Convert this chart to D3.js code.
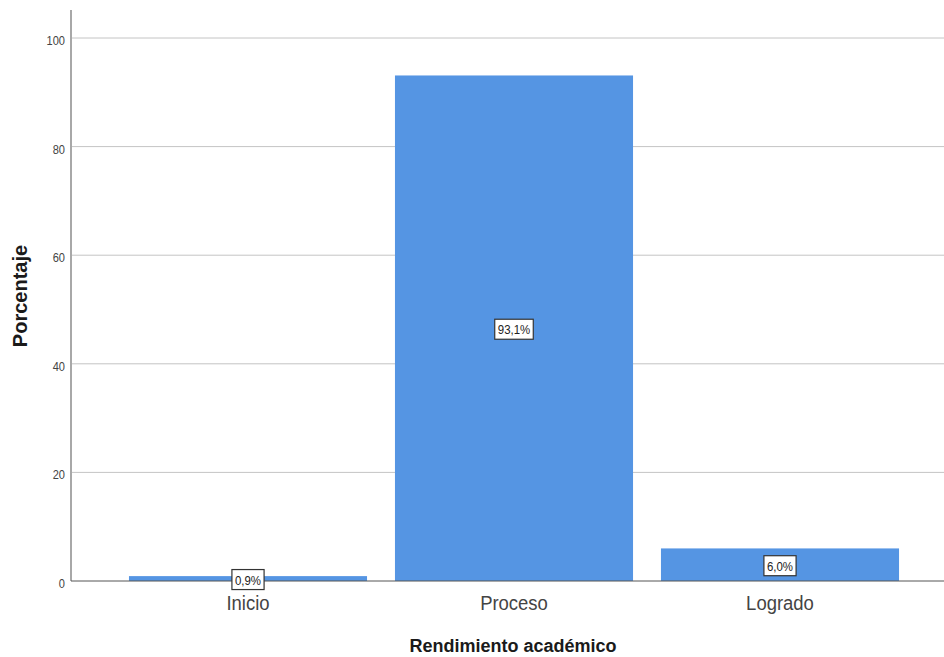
<!DOCTYPE html>
<html><head><meta charset="utf-8">
<script src="https://cdn.jsdelivr.net/npm/d3@7"></script>
<style>body{margin:0;background:#fff}svg{display:block}</style>
</head><body>
<svg id="c" width="944" height="657"></svg>
<script>
const categories = ["Inicio", "Proceso", "Logrado"];
const values = [0.9, 93.1, 6.0];
const labels = ["0,9%", "93,1%", "6,0%"];
const yTicks = [0, 20, 40, 60, 80, 100];

const svg = d3.select("#c");
const pLeft = 71, pRight = 944, pTop = 10, pBottom = 581;
const FONT = "'Liberation Sans', Arial, sans-serif";
const y = d3.scaleLinear().domain([0, 100]).range([pBottom, 38]);
const x = d3.scaleBand().domain(categories).range([115, 913]).paddingInner(0.105).paddingOuter(0.0525);

// gridlines
svg.append("g").selectAll("line").data(yTicks.filter(d => d > 0)).join("line")
  .attr("x1", pLeft).attr("x2", pRight).attr("y1", d => y(d)).attr("y2", d => y(d))
  .attr("stroke", "#c4c4c4").attr("stroke-width", 1);

// tick labels
svg.append("g").selectAll("text").data(yTicks).join("text")
  .attr("transform", d => `translate(65,${y(d) + 7}) scale(0.85,1)`)
  .attr("text-anchor", "end")
  .attr("font-family", FONT)
  .attr("font-size", 13).attr("fill", "#444").text(d => d);

// bars
svg.append("g").selectAll("rect").data(values).join("rect")
  .attr("x", (d, i) => x(categories[i])).attr("width", x.bandwidth())
  .attr("y", d => y(d)).attr("height", d => pBottom - y(d))
  .attr("fill", "#5595e3");

// y axis line
svg.append("line").attr("x1", pLeft).attr("x2", pLeft).attr("y1", pTop).attr("y2", pBottom)
  .attr("stroke", "#a8a8a8").attr("stroke-width", 2);
// baseline
svg.append("line").attr("x1", pLeft).attr("x2", pRight).attr("y1", pBottom).attr("y2", pBottom)
  .attr("stroke", "#555").attr("stroke-width", 1);

// value labels
const sx = 0.88;
const lg = svg.append("g").selectAll("g").data(values).join("g")
  .attr("transform", (d, i) => `translate(${x(categories[i]) + x.bandwidth() / 2},${(y(d) + pBottom) / 2 + 1})`);
lg.each(function(d, i) {
  const g = d3.select(this);
  const t = g.append("text").attr("text-anchor", "middle").attr("y", 5)
    .attr("transform", `scale(${sx},1)`)
    .attr("font-family", FONT)
    .attr("font-size", 13).attr("fill", "#222").text(labels[i]);
  const w = t.node().getBBox().width * sx;
  g.insert("rect", "text").attr("x", -w / 2 - 3).attr("y", -10)
    .attr("width", w + 6).attr("height", 20)
    .attr("fill", "#fff").attr("stroke", "#333").attr("stroke-width", 1.2);
});

// category labels
svg.append("g").selectAll("text").data(categories).join("text")
  .attr("transform", d => `translate(${x(d) + x.bandwidth() / 2},610) scale(0.88,1)`)
  .attr("text-anchor", "middle")
  .attr("font-family", FONT)
  .attr("font-size", 21).attr("fill", "#444").text(d => d);

// axis titles
svg.append("text").attr("x", 513).attr("y", 652).attr("text-anchor", "middle")
  .attr("font-family", FONT).attr("font-weight", "bold")
  .attr("font-size", 18).attr("fill", "#1a1a1a").text("Rendimiento académico");
svg.append("text").attr("transform", "translate(27,296) rotate(-90)").attr("text-anchor", "middle")
  .attr("font-family", FONT).attr("font-weight", "bold")
  .attr("font-size", 20).attr("fill", "#1a1a1a").text("Porcentaje");
</script>
</body></html>
